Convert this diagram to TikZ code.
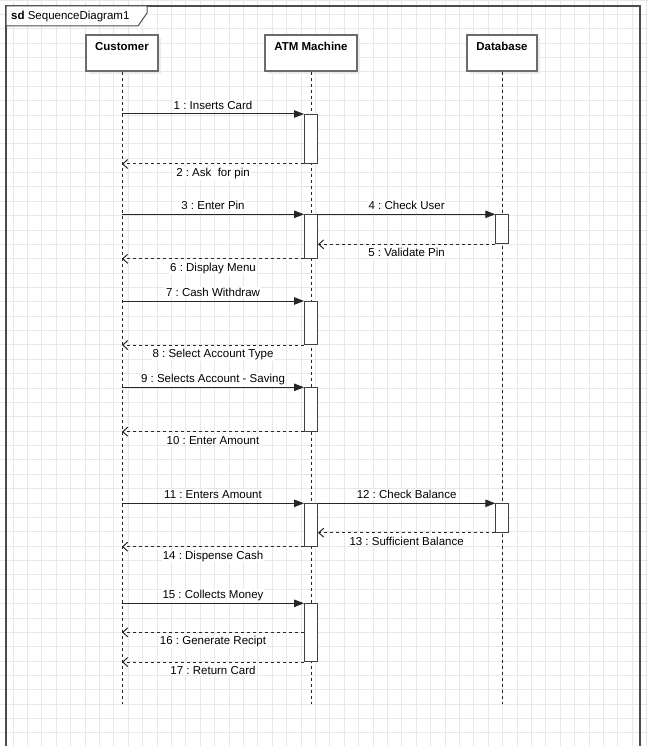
\documentclass[tikz,border=0pt]{standalone}
\usepackage{fontspec}
\setmainfont{Liberation Sans}
\usetikzlibrary{arrows.meta,shadows}
\frenchspacing
\begin{document}
\begin{tikzpicture}[x=1pt,y=-1pt,
  font=\fontsize{11.5}{13}\selectfont,
  gridline/.style={draw=black!9, line width=0.8pt},
  framestyle/.style={draw=black!70, line width=1.2pt},
  headbox/.style={draw=black!58, line width=1.3pt, fill=white, minimum height=36pt, inner sep=0pt,
    general shadow={fill=black!8, shadow xshift=3pt, shadow yshift=-3pt}},
  headtext/.style={font=\fontsize{11.5}{13}\selectfont\bfseries, anchor=base, yshift=-15.7pt},
  lifeline/.style={draw=black!85, line width=0.8pt, dash pattern=on 3pt off 3pt},
  actbox/.style={draw=black!75, line width=1pt, fill=white, minimum width=13pt, inner sep=0pt, anchor=north},
  callmsg/.style={draw=black!85, line width=1pt, -{Triangle[length=10pt,width=7.5pt]}},
  replymsg/.style={draw=black!85, line width=1pt, dash pattern=on 3pt off 3pt,
    -{Straight Barb[length=5pt,width=9pt]}},
  msglabel/.style={fill=white, inner sep=1pt, anchor=base},
  calllabel/.style={msglabel, yshift=4.7pt},
  replylabel/.style={msglabel, yshift=-12.3pt},
]
\useasboundingbox (0,0) rectangle (648,746);
\clip (0,0) rectangle (648,746);

% background grid
\foreach \i in {0,...,45} \draw[gridline] ({-1.4+14.4*\i},0) -- ++(0,746);
\foreach \j in {0,...,52} \draw[gridline] (0,{14.37*\j}) -- ++(648,0);

% sd frame with its name tab
\draw[framestyle] (6,760) -- (6,6) -- (640,6) -- (640,760);
\draw[draw=black!70, line width=1pt, fill=white] (6,6) -- (147,6) -- (147,13) -- (138,26) -- (6,26) -- cycle;
\node[anchor=base west, inner sep=0pt] (title) at (11,20) {\textbf{sd}\ SequenceDiagram1};

% lifeline heads
\node[headbox, minimum width=72pt, label={[headtext]north:Customer}] (cust) at (122,53) {};
\node[headbox, minimum width=92pt, label={[headtext]north:ATM Machine}] (atm) at (311,53) {};
\node[headbox, minimum width=70pt, label={[headtext]north:Database}] (db) at (502,53) {};

% lifelines
\coordinate (custEnd) at (122,704);
\coordinate (atmEnd) at (311,704);
\coordinate (dbEnd) at (502,704);
\draw[lifeline] (cust.south) -- (custEnd);
\draw[lifeline] (atm.south) -- (atmEnd);
\draw[lifeline] (db.south) -- (dbEnd);

% activation bars
\node[actbox, minimum height=49pt] (a1) at (311,114) {};
\node[actbox, minimum height=43.5pt] (a2) at (311,214.3) {};
\node[actbox, minimum height=43pt] (a3) at (311,301) {};
\node[actbox, minimum height=43.4pt] (a4) at (311,387.3) {};
\node[actbox, minimum height=42.4pt] (a5) at (311,503.3) {};
\node[actbox, minimum height=57.7pt] (a6) at (311,603.3) {};
\node[actbox, minimum height=29pt, minimum width=12.5pt] (d1) at (502,214.3) {};
\node[actbox, minimum height=28.4pt, minimum width=12.5pt] (d2) at (502,503.3) {};

% messages
\draw[callmsg] (cust |- a1.north) -- (a1.north west) node[calllabel, midway] {1 : Inserts Card};
\draw[replymsg] (a1.south west) -- (cust |- a1.south) node[replylabel, midway] {2 : Ask\ \ for pin};

\draw[callmsg] (cust |- a2.north) -- (a2.north west) node[calllabel, midway] {3 : Enter Pin};
\draw[callmsg] (a2.north east) -- (d1.north west) node[calllabel, midway] {4 : Check User};
\draw[replymsg] (d1.south west) -- (a2.east |- d1.south) node[replylabel, midway] {5 : Validate Pin};
\draw[replymsg] (a2.south west) -- (cust |- a2.south) node[replylabel, midway] {6 : Display Menu};

\draw[callmsg] (cust |- a3.north) -- (a3.north west) node[calllabel, midway] {7 : Cash Withdraw};
\draw[replymsg] (a3.south west) -- (cust |- a3.south) node[replylabel, midway] {8 : Select Account Type};

\draw[callmsg] (cust |- a4.north) -- (a4.north west) node[calllabel, midway] {9 : Selects Account - Saving};
\draw[replymsg] (a4.south west) -- (cust |- a4.south) node[replylabel, midway] {10 : Enter Amount};

\draw[callmsg] (cust |- a5.north) -- (a5.north west) node[calllabel, midway] {11 : Enters Amount};
\draw[callmsg] (a5.north east) -- (d2.north west) node[calllabel, midway] {12 : Check Balance};
\draw[replymsg] (d2.south west) -- (a5.east |- d2.south) node[replylabel, midway] {13 : Sufficient Balance};
\draw[replymsg] (a5.south west) -- (cust |- a5.south) node[replylabel, midway] {14 : Dispense Cash};

\draw[callmsg] (cust |- a6.north) -- (a6.north west) node[calllabel, midway] {15 : Collects Money};
\path (a6.north west) ++(0,29) coordinate (r16);
\draw[replymsg] (r16) -- (cust |- r16) node[replylabel, midway] {16 : Generate Recipt};
\draw[replymsg] (a6.south west) -- (cust |- a6.south) node[replylabel, midway] {17 : Return Card};
\end{tikzpicture}
\end{document}
